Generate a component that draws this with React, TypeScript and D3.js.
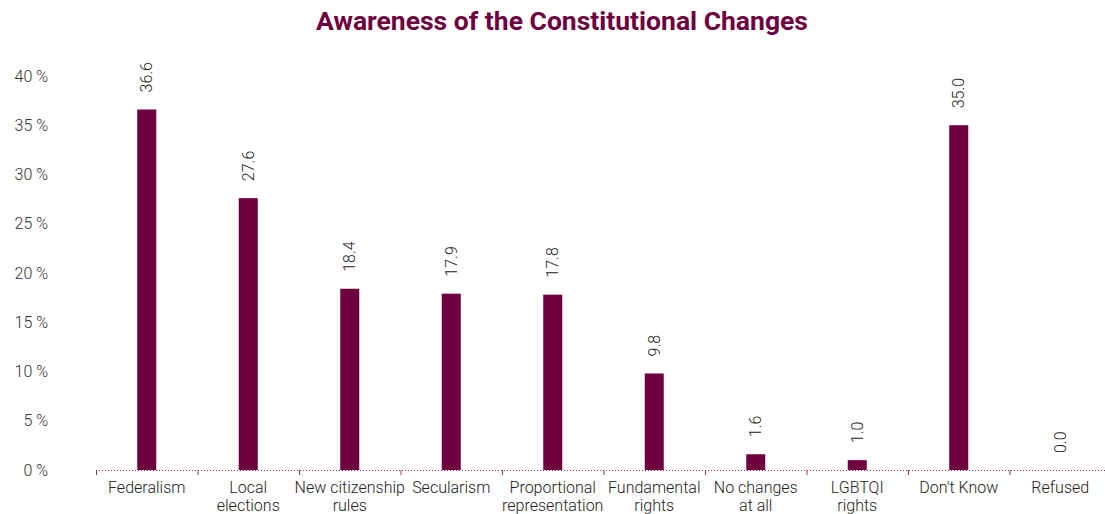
import React from "react";
import * as d3 from "d3";

const categories = [
  ["Federalism"],
  ["Local", "elections"],
  ["New citizenship", "rules"],
  ["Secularism"],
  ["Proportional", "representation"],
  ["Fundamental", "rights"],
  ["No changes", "at all"],
  ["LGBTQI", "rights"],
  ["Don't Know"],
  ["Refused"],
];
const values = [36.6, 27.6, 18.4, 17.9, 17.8, 9.8, 1.6, 1.0, 35.0, 0.0];
const yTicks = [0, 5, 10, 15, 20, 25, 30, 35, 40];

const W = 1105;
const H = 514;
const barColor = "#6f0040";
const font = "Roboto, 'Helvetica Neue', Arial, sans-serif";

export default function App() {
  const keys = categories.map((c) => c.join(" "));
  const x = d3.scaleBand<string>().domain(keys).range([96, 1111]).padding(0);
  const y = d3.scaleLinear().domain([0, 40]).range([470, 76]);
  const bw = 19;

  return (
    <svg width={W} height={H} style={{ position: "absolute", left: 0, top: 0 }}>
      <rect width={W} height={H} fill="#fff" />
      <text
        x={562}
        y={30}
        textAnchor="middle"
        fontFamily={font}
        fontWeight="bold"
        fontSize={26.5}
        fill={barColor}
      >
        Awareness of the Constitutional Changes
      </text>

      {yTicks.map((t) => (
        <text
          key={t}
          x={48}
          y={y(t)}
          dy="0.35em"
          textAnchor="end"
          fontFamily={font}
          fontWeight={300}
          fontSize={16}
          fill="#333"
        >
          {t} %
        </text>
      ))}

      {keys.map((k, i) => {
        const cx = (x(k) as number) + x.bandwidth() / 2;
        const v = values[i];
        return (
          <g key={k}>
            <rect x={cx - bw / 2} y={y(v)} width={bw} height={y(0) - y(v)} fill={barColor} />
            <text
              transform={`translate(${cx},${y(v) - 17}) rotate(-90)`}
              dy="0.35em"
              textAnchor="start"
              fontFamily={font}
              fontWeight={300}
              fontSize={16}
              fill="#222"
            >
              {v.toFixed(1)}
            </text>
            {categories[i].map((line, j) => (
              <text
                key={j}
                x={cx}
                y={493 + j * 18}
                textAnchor="middle"
                fontFamily={font}
                fontWeight={300}
                fontSize={16}
                fill="#222"
              >
                {line}
              </text>
            ))}
          </g>
        );
      })}

      <line
        x1={96}
        x2={W}
        y1={y(0) + 0.5}
        y2={y(0) + 0.5}
        stroke="#a0306a"
        strokeWidth={1}
        strokeDasharray="1,2"
      />
      {keys.map((k) => (
        <line
          key={k}
          x1={(x(k) as number) + 0.5}
          x2={(x(k) as number) + 0.5}
          y1={y(0)}
          y2={y(0) + 5}
          stroke="#a0306a"
          strokeWidth={1}
        />
      ))}
    </svg>
  );
}
